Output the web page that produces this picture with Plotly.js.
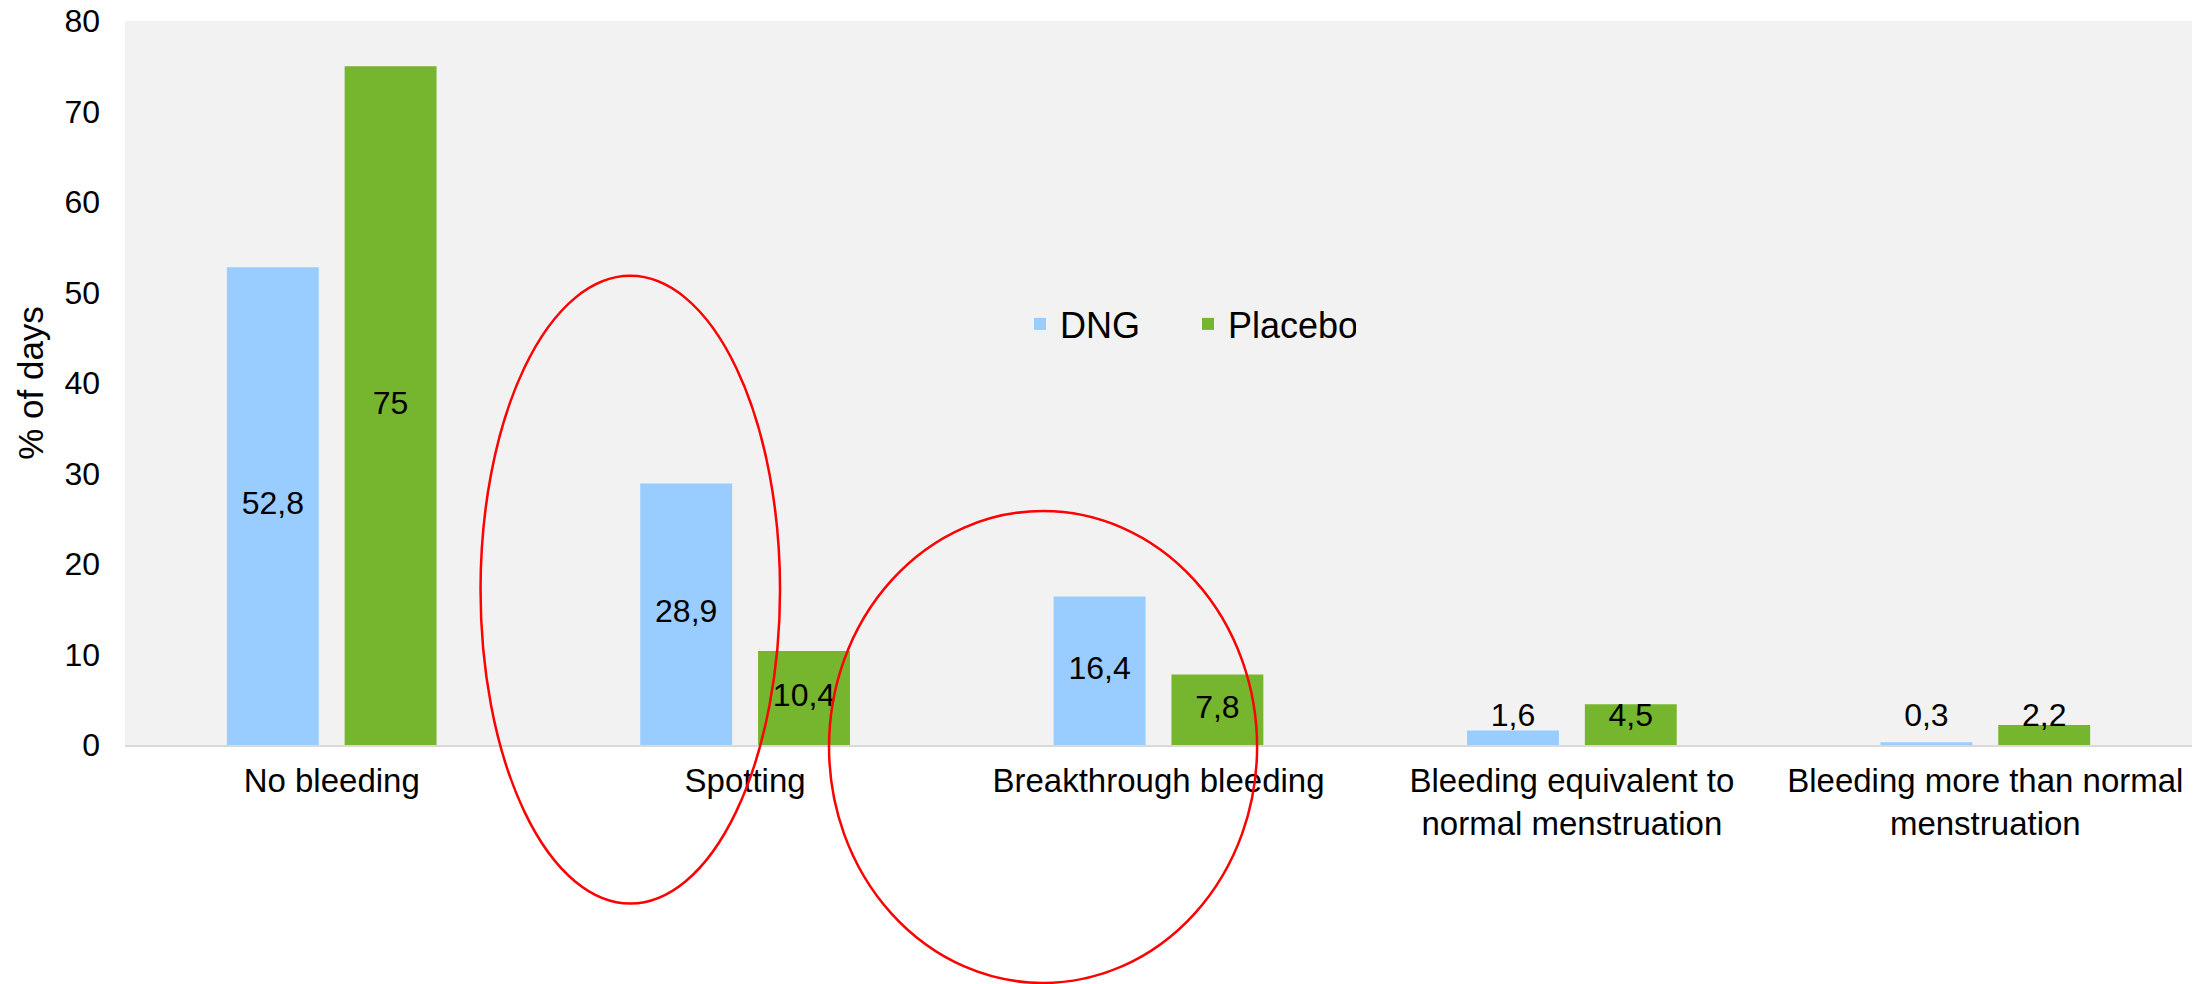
<!DOCTYPE html>
<html>
<head>
<meta charset="utf-8">
<script src="https://cdn.plot.ly/plotly-3.0.1.min.js"></script>
<style>
  html, body { margin: 0; padding: 0; background: #ffffff; }
  #chart { width: 2197px; height: 984px; }
</style>
</head>
<body>
<div id="chart"></div>
<script>
// ---- data ----
const categories = [
  "No bleeding",
  "Spotting",
  "Breakthrough bleeding",
  "Bleeding equivalent to<br>normal menstruation",
  "Bleeding more than normal<br>menstruation"
];
const seriesNames = ["DNG", "Placebo"];
const dngValues = [52.8, 28.9, 16.4, 1.6, 0.3];
const placeboValues = [75, 10.4, 7.8, 4.5, 2.2];
const yTickValues = [0, 10, 20, 30, 40, 50, 60, 70, 80];
const yAxisTitle = "% of days";

// ---- styling ----
const FONT = "Liberation Sans, Arial, sans-serif";
const colors = ["#99CCFF", "#76B52E"];
const minLabelY = 3.0; // labels of very short bars sit just above the baseline area

function fmt(v) { return String(v).replace(".", ","); }
function labelY(vals) { return vals.map(v => Math.max(v / 2, minLabelY)); }

const allSeries = [dngValues, placeboValues];

const barTraces = allSeries.map((vals, i) => ({
  type: "bar",
  name: seriesNames[i],
  x: categories,
  y: vals,
  marker: { color: colors[i], line: { width: 0 } },
  hoverinfo: "skip",
  textposition: "none"
}));

const labelTraces = allSeries.map((vals, i) => ({
  type: "scatter",
  mode: "text",
  x: categories,
  y: labelY(vals),
  text: vals.map(fmt),
  textposition: "middle center",
  textfont: { family: FONT, size: 32, color: "#000000" },
  showlegend: false,
  hoverinfo: "skip",
  cliponaxis: false
}));

const layout = {
  width: 2197,
  height: 984,
  margin: { l: 125, r: 5, t: 21, b: 239 },
  paper_bgcolor: "#ffffff",
  plot_bgcolor: "#F2F2F2",
  font: { family: FONT, color: "#000000" },
  barmode: "group",
  bargap: 0.43,
  bargroupgap: 0.22,
  scattermode: "group",
  scattergap: 0.43,
  showlegend: true,
  legend: {
    orientation: "h",
    x: 0.433,
    xanchor: "left",
    y: 0.5815,
    yanchor: "middle",
    font: { family: FONT, size: 36, color: "#000000" },
    bgcolor: "rgba(0,0,0,0)",
    entrywidth: 123,
    traceorder: "normal"
  },
  xaxis: {
    type: "category",
    showgrid: false,
    zeroline: false,
    showline: true,
    linecolor: "#D9D9D9",
    linewidth: 2,
    ticks: "",
    tickfont: { family: FONT, size: 33, color: "#000000" },
    ticklabelstandoff: 5,
    fixedrange: true
  },
  yaxis: {
    range: [0, 80],
    tickvals: yTickValues,
    ticktext: yTickValues.map(String),
    showgrid: false,
    zeroline: false,
    showline: false,
    ticks: "",
    tickfont: { family: FONT, size: 32, color: "#000000" },
    ticklabelstandoff: 24,
    title: { text: yAxisTitle, font: { family: FONT, size: 35, color: "#000000" }, standoff: 10 },
    fixedrange: true
  },
  shapes: [
    {
      type: "circle", xref: "paper", yref: "paper", layer: "above",
      x0: 0.172, x1: 0.3169, y0: -0.219, y1: 0.648,
      line: { color: "#FF0000", width: 2.5 }
    },
    {
      type: "circle", xref: "paper", yref: "paper", layer: "above",
      x0: 0.3406, x1: 0.5477, y0: -0.3287, y1: 0.3232,
      line: { color: "#FF0000", width: 2.5 }
    }
  ]
};

Plotly.newPlot("chart", barTraces.concat(labelTraces), layout, { staticPlot: true, displayModeBar: false });
</script>
</body>
</html>
